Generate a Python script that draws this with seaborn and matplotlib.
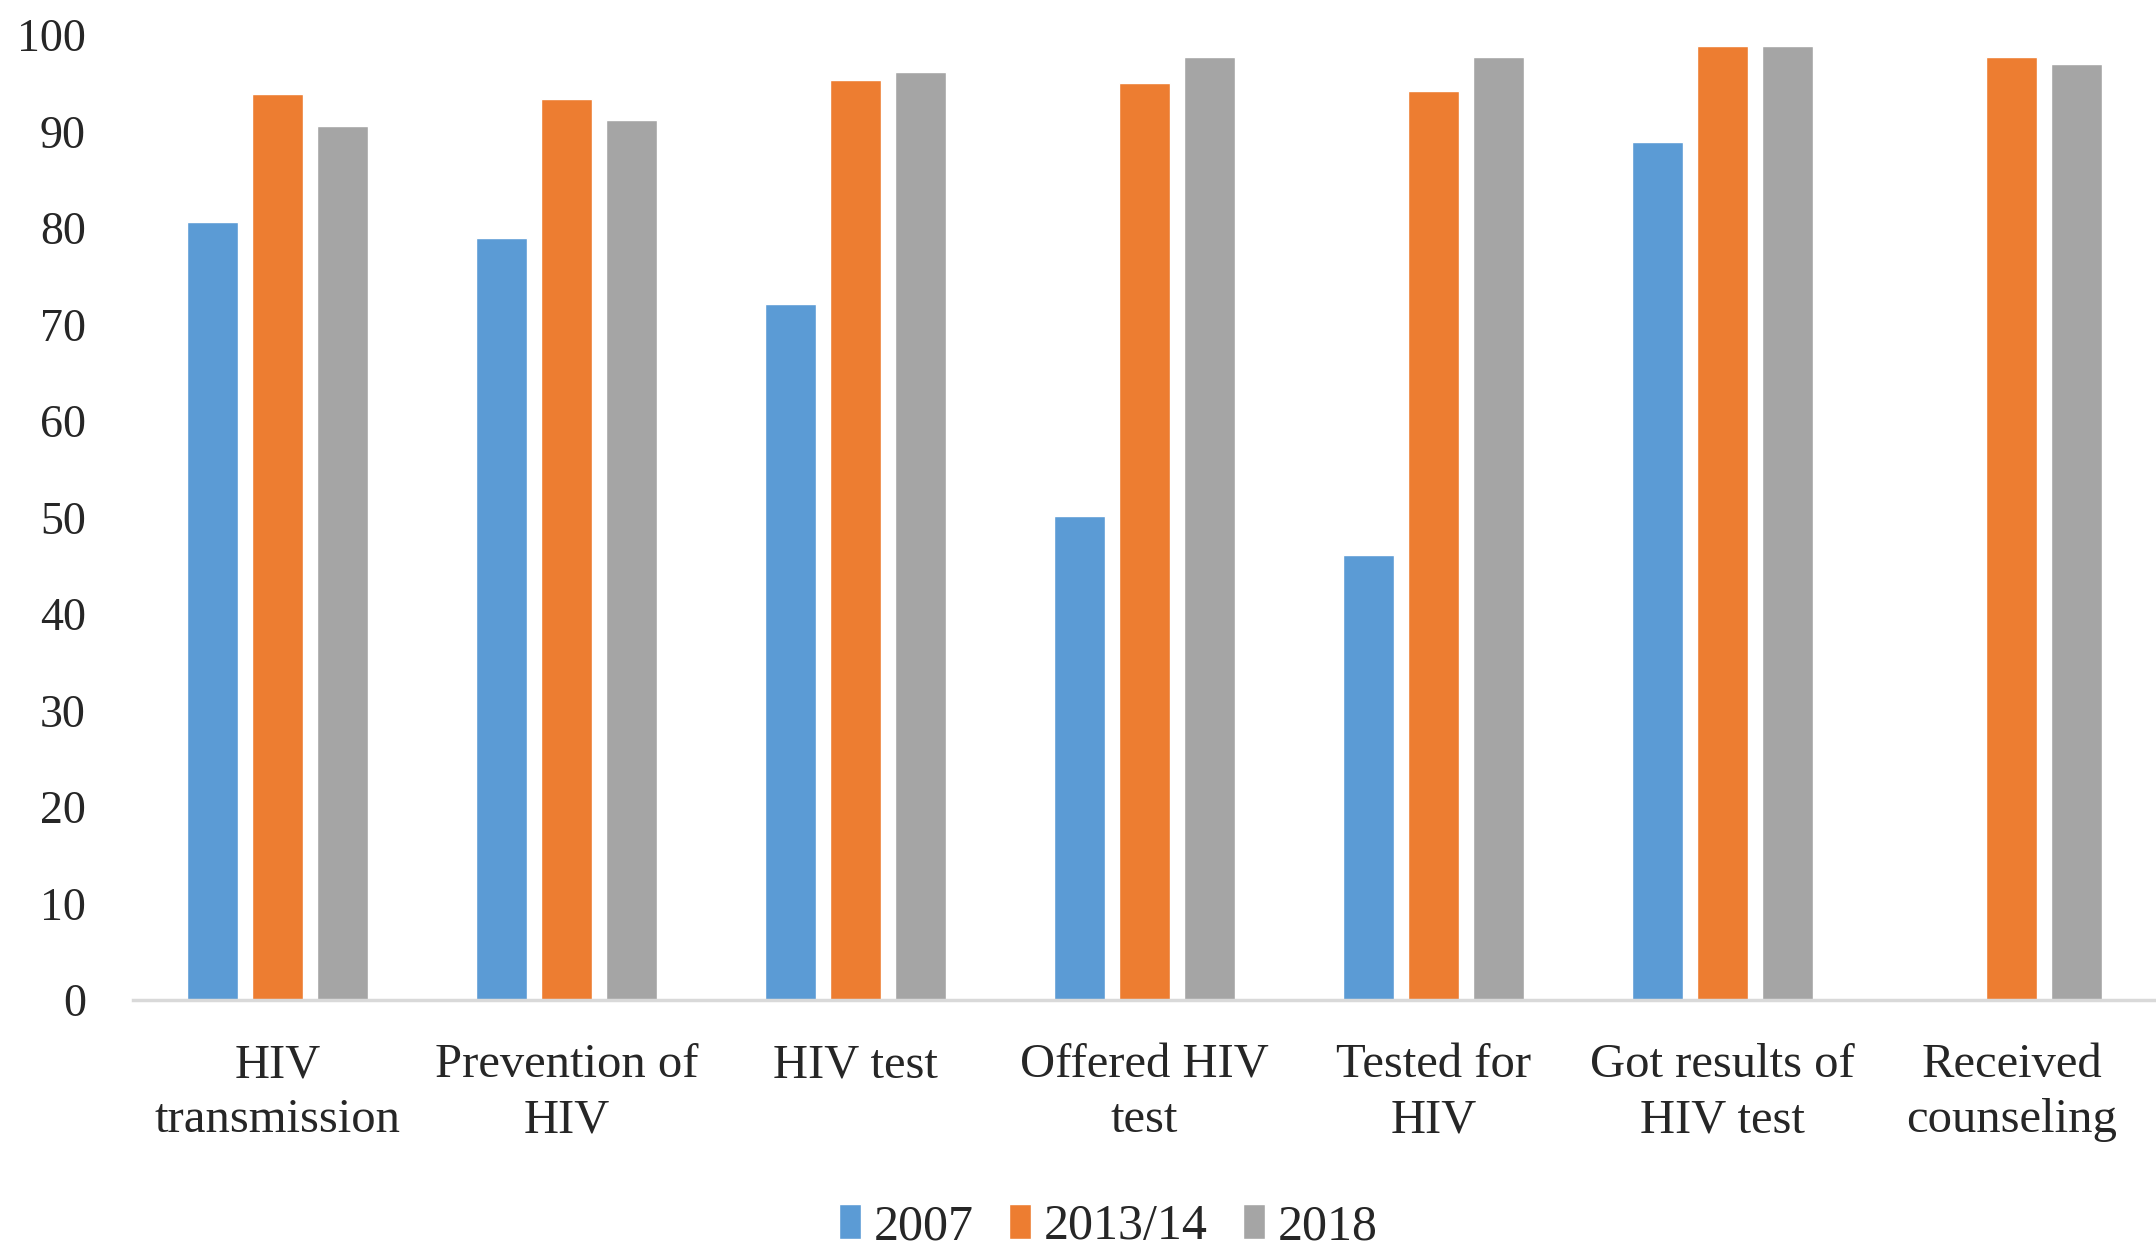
import numpy as np
import pandas as pd
import matplotlib
matplotlib.use("Agg")
import matplotlib.pyplot as plt
import seaborn as sns

categories = ["HIV\ntransmission", "Prevention of\nHIV", "HIV test", "Offered HIV\ntest",
              "Tested for\nHIV", "Got results of\nHIV test", "Received\ncounseling"]
years = ["2007", "2013/14", "2018"]
vals_2007 = [80.6, 79.0, 72.1, 50.2, 46.1, 88.9, np.nan]
vals_2013 = [93.9, 93.4, 95.3, 95.0, 94.2, 98.9, 97.7]
vals_2018 = [90.6, 91.2, 96.2, 97.7, 97.7, 98.9, 97.0]
colors = ["#5B9BD5", "#ED7D31", "#A5A5A5"]

rows = []
for yr, vals in zip(years, [vals_2007, vals_2013, vals_2018]):
    for c, v in zip(categories, vals):
        rows.append({"category": c, "year": yr, "value": v})
df = pd.DataFrame(rows)

sns.set_theme(style="white")
plt.rcParams["font.family"] = ["Liberation Serif", "DejaVu Serif"]

fig = plt.figure(figsize=(21.56, 12.47), dpi=100)
ax = fig.add_axes([133 / 2156, 1 - 1000 / 1247, 1 - 133 / 2156, (1000 - 35) / 1247])

sns.barplot(data=df, x="category", y="value", hue="year", order=categories,
            hue_order=years, palette=colors, width=0.675, gap=0.23,
            saturation=1, ax=ax, legend=True)

ax.set_ylim(0, 100)
ax.set_xlim(-0.5, 6.5)
ax.set_yticks(range(0, 101, 10))
ax.set_xlabel("")
ax.set_ylabel("")
for s in ["top", "right", "left"]:
    ax.spines[s].set_visible(False)
ax.spines["bottom"].set_color("#D9D9D9")
ax.spines["bottom"].set_linewidth(2.5)
ax.tick_params(axis="y", length=0, pad=34, labelsize=33)
ax.tick_params(axis="x", length=0, pad=31, labelsize=35)
for lbl in ax.get_xticklabels():
    lbl.set_linespacing(1.33)
ax.grid(False)

handles, labels = ax.get_legend_handles_labels()
ax.get_legend().remove()
fig.legend(handles, labels, loc="center", bbox_to_anchor=(0.514, 0.016),
           ncol=3, frameon=False, fontsize=36, handlelength=0.45, handleheight=0.7,
           handletextpad=0.25, columnspacing=0.7)

fig.savefig("out.png", dpi=100)
